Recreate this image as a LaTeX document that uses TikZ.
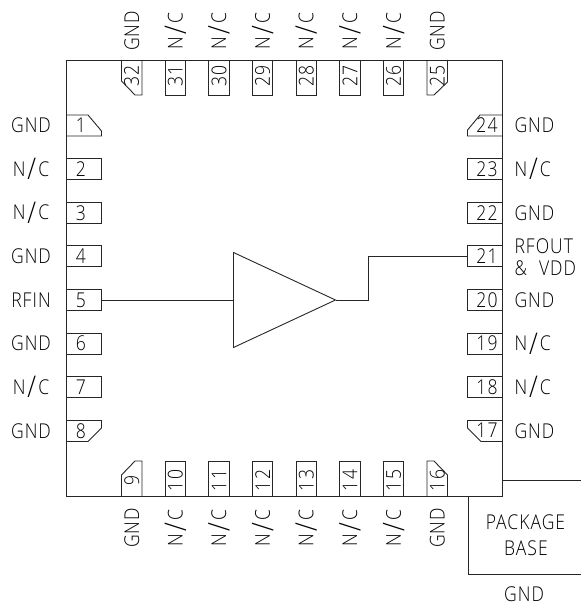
\documentclass[tikz,border=0pt]{standalone}
\usepackage{fontspec}
\newfontfamily\cadfont[FakeStretch=0.86,LetterSpace=5]{Open Sans Light}
\newcommand{\ncl}{N\kern2bp\raisebox{-3.5bp}{\fontsize{30}{30}\selectfont/}\kern2bp C}
\tikzset{
  wire/.style={line width=0.9bp,draw=black!85},
  pinbox/.style={draw=black!85,line width=0.9bp,inner sep=0pt,outer sep=0pt},
  hpin/.style={pinbox,minimum width=35bp,minimum height=21bp},
  vpin/.style={pinbox,minimum width=20.5bp,minimum height=35bp},
  txt/.style={inner sep=0pt,outer sep=0pt,font=\cadfont\fontsize{20.5}{24}\selectfont,text=black},
  vtxt/.style={txt,rotate=90}
}
\begin{document}
\begin{tikzpicture}[x=1bp,y=-1bp]
\useasboundingbox (0,0) rectangle (581,605);
\draw[wire] (66.5,60) rectangle (502.5,496);
% left pins
\foreach \i/\lab in {2/\ncl,3/\ncl,4/GND,5/RFIN,6/GND,7/\ncl}{
  \pgfmathsetmacro{\yy}{125.5+43.625*(\i-1)}
  \node[hpin] (pin\i) at (84,\yy) {};
  \node[txt] (num\i) at (81,\yy) {\i};
  \node[txt] (lab\i) at (31,\yy) {\lab};
}
% right pins
\foreach \i/\lab in {23/\ncl,22/GND,20/GND,19/\ncl,18/\ncl,21/{}}{
  \pgfmathsetmacro{\yy}{125.5+43.625*(24-\i)}
  \node[hpin] (pin\i) at (485,\yy) {};
  \node[txt] (num\i) at (487,\yy) {\i};
  \node[txt,anchor=west] (lab\i) at (514.5,\yy) {\lab};
}
% top pins
\foreach \i/\lab in {31/\ncl,30/\ncl,29/\ncl,28/\ncl,27/\ncl,26/\ncl}{
  \pgfmathsetmacro{\xx}{131.7+43.65*(32-\i)}
  \node[vpin] (pin\i) at (\xx,77.5) {};
  \node[vtxt] (num\i) at (\xx,76) {\i};
  \node[vtxt] (lab\i) at (\xx,31) {\lab};
}
% bottom pins
\foreach \i/\lab in {10/\ncl,11/\ncl,12/\ncl,13/\ncl,14/\ncl,15/\ncl}{
  \pgfmathsetmacro{\xx}{131.7+43.65*(\i-9)}
  \node[vpin] (pin\i) at (\xx,478.5) {};
  \node[vtxt] (num\i) at (\xx,480.5) {\i};
  \node[vtxt] (lab\i) at (\xx,528) {\lab};
}
% chamfered corner pins
\draw[wire] (66.5,115) -- (88,115) -- (101.5,131) -- (101.5,136) -- (66.5,136);
\draw[wire] (66.5,420.5) -- (101.5,420.5) -- (101.5,428) -- (88,441.5) -- (66.5,441.5);
\draw[wire] (502.5,115) -- (480,115) -- (467.5,130) -- (467.5,136) -- (502.5,136);
\draw[wire] (502.5,420.5) -- (467.5,420.5) -- (467.5,428) -- (481,441.5) -- (502.5,441.5);
\draw[wire] (121.5,60) -- (121.5,81) -- (135,95) -- (142,95) -- (142,60);
\draw[wire] (427,60) -- (427,95) -- (434,95) -- (447.5,82) -- (447.5,60);
\draw[wire] (121.5,496) -- (121.5,475) -- (135,461) -- (142,461) -- (142,496);
\draw[wire] (427,496) -- (427,461) -- (434,461) -- (447.5,475) -- (447.5,496);
\node[txt] (num1) at (81,125.5) {1};
\node[txt] (lab1) at (31,125.5) {GND};
\node[txt] (num8) at (81,430.7) {8};
\node[txt] (lab8) at (31,430.7) {GND};
\node[txt] (num24) at (487,125.5) {24};
\node[txt,anchor=west] (lab24) at (514.5,125.5) {GND};
\node[txt] (num17) at (487,430.7) {17};
\node[txt,anchor=west] (lab17) at (514.5,430.7) {GND};
\node[vtxt] (num32) at (131.7,76) {32};
\node[vtxt] (lab32) at (131.7,31) {GND};
\node[vtxt] (num25) at (437.2,76) {25};
\node[vtxt] (lab25) at (437.2,31) {GND};
\node[vtxt] (num9) at (131.7,480.5) {9};
\node[vtxt] (lab9) at (131.7,528) {GND};
\node[vtxt] (num16) at (437.2,480.5) {16};
\node[vtxt] (lab16) at (437.2,528) {GND};
\node[txt,anchor=west] (rfout) at (514.5,246) {RFOUT};
\node[txt,anchor=west] (vdd) at (514.5,268) {\&\hspace{12bp}VDD};
% amplifier
\coordinate (ampin) at (233.5,300);
\coordinate (ampout) at (335.5,300);
\coordinate (amptop) at (233.5,252.5);
\coordinate (ampbot) at (233.5,347.5);
\draw[wire] (amptop) -- (ampout) -- (ampbot) -- cycle;
\draw[wire] (pin5.east) -- (ampin);
\coordinate (bend) at (368,300);
\draw[wire] (ampout) -- (bend) -- (bend |- pin21.west) -- (pin21.west);
% package base
\draw[wire] (502.5,480) -- (581,480);
\draw[wire] (468.5,496) -- (468.5,574) -- (581,574);
\node[txt] (pkg) at (525.5,522) {PACKAGE};
\node[txt] (base) at (526,548) {BASE};
\node[txt] (pkggnd) at (524,594) {GND};
\end{tikzpicture}
\end{document}
